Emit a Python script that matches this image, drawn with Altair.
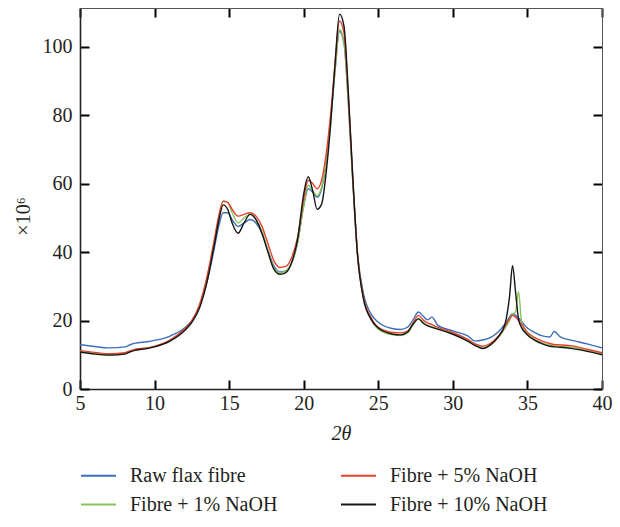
import altair as alt
import pandas as pd

two_theta = [5, 6, 7, 8, 8.4, 8.7, 9.5, 10, 11, 12, 12.5, 13, 13.5, 14, 14.3, 14.6, 14.9, 15.2,
             15.6, 16, 16.4, 16.8, 17.2, 17.6, 18, 18.4, 18.8, 19.2, 19.6, 20, 20.3, 20.6, 20.9,
             21.2, 21.5, 21.8, 22.1, 22.4, 22.7, 23, 23.3, 23.6, 24, 24.5, 25, 26, 26.5, 27,
             27.3, 27.7, 28, 28.3, 28.6, 29, 30, 31, 31.5, 32, 32.5, 33, 33.5, 33.8, 34, 34.2,
             34.4, 34.6, 35, 35.5, 36, 36.5, 36.8, 37.2, 38, 39, 40]

raw = [13.0, 12.4, 12.0, 12.3, 13.0, 13.4, 13.8, 14.2, 15.4, 17.8, 20.0, 24.0, 31.0, 41.0, 47.5,
       51.5, 51.5, 49.5, 47.5, 48.5, 49.5, 48.5, 45.5, 40.5, 36.0, 34.2, 34.5, 37.0, 43.0, 53.5,
       58.5, 57.5, 56.0, 58.5, 66.0, 78.0, 93.0, 104.5, 101.0, 83.0, 60.0, 40.0, 28.0, 22.0,
       19.5, 17.6, 17.4, 18.2, 20.0, 22.5, 21.3, 20.2, 21.0, 18.6, 17.0, 15.5, 14.0, 14.3,
       15.0, 16.5, 19.0, 21.0, 22.0, 21.5, 20.8, 19.8, 17.8, 16.5, 15.5, 15.2, 16.8, 15.2,
       14.2, 13.2, 12.0]

naoh1 = [11.0, 10.4, 10.0, 10.3, 11.0, 11.4, 11.9, 12.4, 14.0, 17.2, 19.8, 24.0, 32.0, 43.0,
         50.0, 55.0, 54.5, 51.5, 48.5, 50.0, 51.0, 49.5, 46.0, 40.5, 35.5, 34.0, 34.5, 37.0,
         43.0, 53.5, 59.5, 58.0, 56.5, 59.0, 66.5, 78.5, 93.0, 105.0, 101.5, 83.0, 60.0, 39.5,
         26.5, 20.5, 17.5, 15.8, 15.6, 16.5, 18.5, 20.5, 19.5, 18.5, 18.2, 17.5, 16.2, 14.0,
         12.8, 12.0, 12.8, 14.8, 17.8, 20.0, 21.8, 22.5, 28.5, 20.0, 16.0, 14.5, 13.5, 12.8,
         12.6, 12.5, 12.2, 11.2, 10.3]

naoh5 = [11.2, 10.7, 10.3, 10.6, 11.2, 11.6, 12.0, 12.5, 14.2, 17.5, 20.0, 24.5, 32.5, 43.5,
         50.5, 54.8, 54.5, 52.5, 50.5, 51.0, 51.5, 50.5, 47.5, 42.5, 37.5, 35.5, 35.8, 38.5,
         44.5, 55.5, 61.0, 60.0, 58.5, 61.0, 68.5, 80.0, 95.0, 107.5, 104.0, 85.0, 61.0, 40.0,
         27.0, 21.0, 18.0, 16.5, 16.4, 17.0, 19.0, 21.5, 20.2, 19.3, 18.8, 18.0, 16.5, 14.5,
         13.2, 12.5, 13.3, 15.2, 18.3, 20.5, 21.5, 21.0, 20.0, 19.0, 16.5, 15.0, 14.0, 13.3,
         13.0, 12.9, 12.6, 11.6, 10.6]

naoh10 = [10.8, 10.2, 9.9, 10.2, 10.9, 11.3, 11.8, 12.3, 13.9, 17.0, 19.5, 23.5, 31.0, 42.0,
          49.0, 53.8, 52.5, 48.5, 45.5, 48.5, 51.0, 49.5, 45.5, 40.0, 35.0, 33.5, 34.0, 37.0,
          44.0, 57.0, 62.0, 58.0, 52.5, 54.0, 63.0, 77.0, 95.0, 109.5, 106.0, 86.0, 61.0, 39.5,
          26.5, 20.5, 17.8, 16.0, 15.8, 16.8, 18.8, 20.5, 19.3, 18.5, 18.0, 17.5, 16.0, 14.0,
          12.7, 11.8, 12.8, 15.0, 19.0, 27.0, 36.0, 28.5, 20.5, 18.0, 15.8, 14.2, 13.2, 12.5,
          12.3, 12.2, 11.8, 11.0, 10.0]

series_names = ["Raw flax fibre", "Fibre + 1% NaOH", "Fibre + 5% NaOH", "Fibre + 10% NaOH"]
series_colors = ["#3b6db8", "#8cc35c", "#e2432c", "#161616"]

x_ticks = [5, 10, 15, 20, 25, 30, 35, 40]
y_ticks = [0, 20, 40, 60, 80, 100]

rows = []
for k, (name, vals) in enumerate(zip(series_names, [raw, naoh1, naoh5, naoh10])):
    for xv, yv in zip(two_theta, vals):
        rows.append({"series": name, "two_theta": xv, "value": yv, "k": k})
df = pd.DataFrame(rows)

FONT = "Liberation Serif"
TXT = "#231f20"
inward = alt.ExprRef(expr="-9")

xscale = alt.Scale(domain=[5, 40], nice=False, zero=False)
yscale = alt.Scale(domain=[0, 111.3], nice=False)

lines = alt.Chart(df).mark_line(strokeWidth=1.4, interpolate="monotone").encode(
    x=alt.X("two_theta:Q", scale=xscale,
            axis=alt.Axis(values=x_ticks, title="2θ", tickSize=inward, labelPadding=13,
                          titleFontStyle="italic", titleFontWeight="normal", titlePadding=10,
                          grid=False, domainColor="#222", domainWidth=1.6, tickColor="#000",
                          tickWidth=2, labelFlush=False)),
    y=alt.Y("value:Q", scale=yscale,
            axis=alt.Axis(values=y_ticks, title="×10⁶", tickSize=inward, labelPadding=17,
                          titleFontWeight="normal", titlePadding=9, titleY=208,
                          grid=False, domainColor="#222", domainWidth=1.6, tickColor="#000",
                          tickWidth=2)),
    color=alt.Color("series:N",
                    scale=alt.Scale(domain=series_names, range=series_colors),
                    legend=alt.Legend(title=None, orient="none", legendX=0, legendY=449,
                                      columns=2, columnPadding=59, rowPadding=0,
                                      symbolType="stroke", symbolSize=1225,
                                      symbolStrokeWidth=2, labelOffset=13,
                                      labelFont=FONT, labelFontSize=20, labelColor=TXT)),
    order=alt.Order("k:Q"),
)

frame = alt.Chart(df).mark_line(opacity=0).encode(
    x=alt.X("two_theta:Q", scale=xscale,
            axis=alt.Axis(orient="top", values=x_ticks, labels=False, title="",
                          tickSize=inward, grid=False, domainColor="#555", domainWidth=1,
                          tickColor="#000", tickWidth=2)),
    y=alt.Y("value:Q", scale=yscale,
            axis=alt.Axis(orient="right", values=y_ticks, labels=False, title="",
                          tickSize=inward, grid=False, domainColor="#555", domainWidth=1,
                          tickColor="#000", tickWidth=2)),
)

chart = alt.layer(lines, frame).resolve_axis(x="independent", y="independent").properties(
    width=522, height=381, autosize="none",
    padding={"left": 72, "top": 0, "right": 10, "bottom": 124},
).configure_view(stroke=None).configure_axis(
    labelFont=FONT, labelFontSize=20, labelColor=TXT,
    titleFont=FONT, titleFontSize=20, titleColor=TXT,
)

chart.save("out.html", embed_options={"renderer": "svg", "actions": False})
